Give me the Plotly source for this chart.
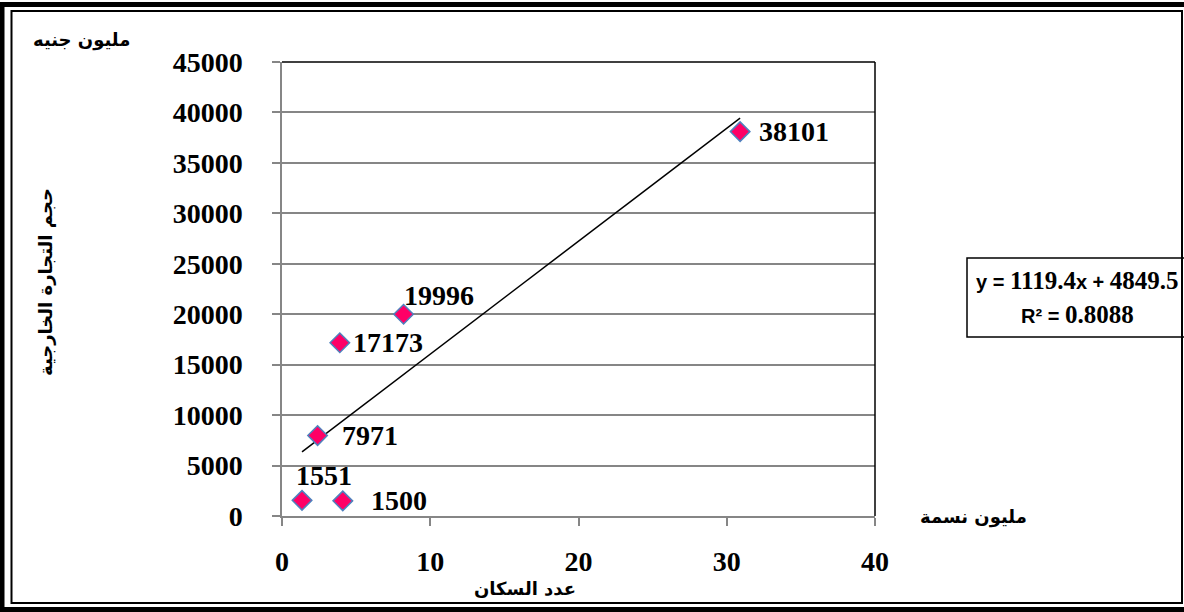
import plotly.graph_objects as go

# ---------------- data ----------------
population = [1.35, 4.1, 2.4, 3.9, 8.2, 30.9]          # مليون نسمة
trade = [1551, 1500, 7971, 17173, 19996, 38101]        # مليون جنيه
point_labels = ["1551", "1500", "7971", "17173", "19996", "38101"]
trend_slope = 1119.4
trend_intercept = 4849.5
r_squared = 0.8088
y_ticks = [0, 5000, 10000, 15000, 20000, 25000, 30000, 35000, 40000, 45000]
x_ticks = [0, 10, 20, 30, 40]

# label offsets (style, pixels)
label_dx = [-8, 26, 22, 11, -2, 17]
label_dy = [25, 0, 0, 0, 19, 0]

W, H = 1184, 612
L, R, T, B = 282, 1184 - 875, 62, 612 - 516
PW, PH = W - L - R, H - T - B


def px(x):
    return (x - L) / PW


def py(y):
    return (H - B - y) / PH


NUM_FONT = "Liberation Serif"
AR_FONT = "DejaVu Sans"
GRID = "#868686"
NUM_SIZE = 28
AR_SIZE = 18

fig = go.Figure()

# trendline
xmin, xmax = min(population), max(population)
fig.add_trace(go.Scatter(
    x=[xmin, xmax],
    y=[trend_slope * xmin + trend_intercept, trend_slope * xmax + trend_intercept],
    mode="lines", line=dict(color="black", width=1.5),
    hoverinfo="skip", showlegend=False,
))

# points
fig.add_trace(go.Scatter(
    x=population, y=trade, mode="markers",
    marker=dict(symbol="diamond", size=15, color="#FF0066",
                line=dict(color="#4F81BD", width=1.5)),
    showlegend=False,
))

annotations = []
for xv, yv, txt, dx, dy in zip(population, trade, point_labels, label_dx, label_dy):
    annotations.append(dict(
        x=xv, y=yv, xref="x", yref="y", text="<b>%s</b>" % txt,
        showarrow=False, xanchor="left", yanchor="middle",
        xshift=dx, yshift=dy,
        font=dict(family=NUM_FONT, size=NUM_SIZE, color="black"),
    ))


def paper_text(xp, yp, text, size, family=AR_FONT, angle=0):
    return dict(x=px(xp), y=py(yp), xref="paper", yref="paper", text=text,
                showarrow=False, xanchor="center", yanchor="middle", textangle=angle,
                font=dict(family=family, size=size, color="black"))


# axis titles
annotations += [
    paper_text(81, 40, "<b>مليون جنيه</b>", AR_SIZE),
    paper_text(45, 282, "<b>حجم التجارة الخارجية</b>", AR_SIZE, angle=-90),
    paper_text(973, 517, "<b>مليون نسمة</b>", AR_SIZE),
    paper_text(525, 588, "<b>عدد السكان</b>", AR_SIZE),
]

# equation box text
SANS = 'font-family:Liberation Sans;font-size:20px'
eq = ('<b><span style="%s">y = </span>%s'
      '<span style="%s">x + </span>%s</b>') % (SANS, trend_slope, SANS, trend_intercept)
r2 = '<b><span style="%s">R² = </span>%s</b>' % (SANS, r_squared)
annotations += [
    paper_text(1077, 280, eq, 25, family=NUM_FONT),
    paper_text(1077, 314, r2, 25, family=NUM_FONT),
]

shapes = [
    # plot area top and right border (black)
    dict(type="line", xref="paper", yref="paper", x0=0, x1=1, y0=1, y1=1,
         line=dict(color="black", width=1.5)),
    dict(type="line", xref="paper", yref="paper", x0=1, x1=1, y0=0, y1=1,
         line=dict(color="black", width=1.5)),
    # equation box
    dict(type="rect", xref="paper", yref="paper", x0=px(967), x1=px(1190), y0=py(337), y1=py(258),
         line=dict(color="black", width=1.5), fillcolor="rgba(0,0,0,0)"),
    # outer frame (thick)
    dict(type="rect", xref="paper", yref="paper", x0=px(2), x1=px(1190), y0=py(609.5), y1=py(4.5),
         line=dict(color="black", width=5), fillcolor="rgba(0,0,0,0)"),
    # inner frame (thin)
    dict(type="rect", xref="paper", yref="paper", x0=px(11.5), x1=px(1182), y0=py(603), y1=py(11),
         line=dict(color="black", width=2), fillcolor="rgba(0,0,0,0)"),
]

fig.update_layout(
    width=W, height=H,
    margin=dict(l=L, r=R, t=T, b=B, pad=0),
    paper_bgcolor="white", plot_bgcolor="white",
    showlegend=False,
    annotations=annotations,
    shapes=shapes,
)

fig.update_xaxes(
    range=[0, 40], tickvals=x_ticks, ticktext=["<b>%d</b>" % v for v in x_ticks],
    showgrid=False, zeroline=False,
    showline=True, linecolor=GRID, linewidth=1.5,
    ticks="outside", ticklen=8, tickcolor=GRID, tickwidth=1.5,
    ticklabelstandoff=12,
    tickfont=dict(family=NUM_FONT, size=NUM_SIZE, color="black"),
)
fig.update_yaxes(
    range=[0, 45000], tickvals=y_ticks, ticktext=["<b>%d</b>" % v for v in y_ticks],
    showgrid=True, gridcolor=GRID, gridwidth=1.5, zeroline=False,
    showline=True, linecolor=GRID, linewidth=1.5,
    ticks="outside", ticklen=8, tickcolor=GRID, tickwidth=1.5,
    ticklabelstandoff=24,
    tickfont=dict(family=NUM_FONT, size=NUM_SIZE, color="black"),
)

fig.write_html("out.html", config={"displayModeBar": False},
               post_script="document.body.style.margin='0';document.body.style.overflow='hidden';")
